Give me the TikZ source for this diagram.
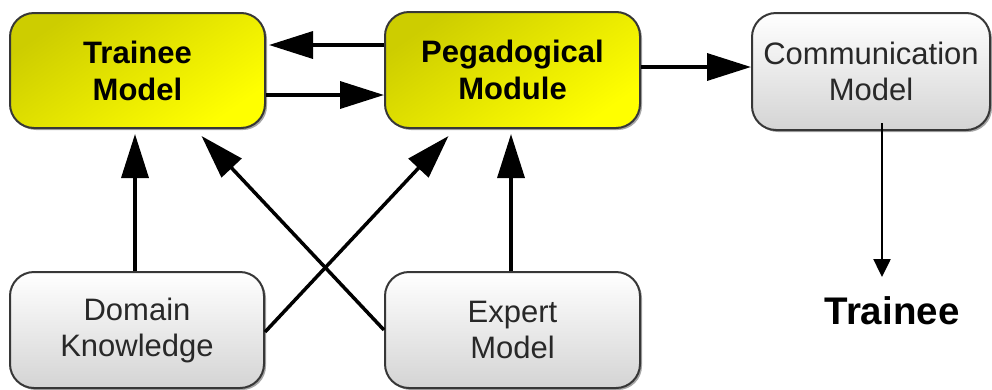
\documentclass[tikz,border=0pt]{standalone}
\usepackage{fontspec}
\setmainfont{Liberation Sans}
\usetikzlibrary{arrows.meta,shadows}
\definecolor{ydark}{RGB}{205,205,0}
\definecolor{ylight}{RGB}{255,255,0}
\definecolor{gbot}{RGB}{212,212,212}
\definecolor{edge}{RGB}{55,55,55}
\definecolor{gtext}{RGB}{40,40,40}
\begin{document}
\begin{tikzpicture}[x=1pt,y=-1pt,
  box/.style={draw=edge,line width=2pt,rounded corners=24pt,align=center,
    inner sep=0pt,
    drop shadow={shadow xshift=2pt,shadow yshift=-2pt,opacity=0.35,fill=black}},
  ybox/.style={box,top color=ydark,bottom color=ylight,shading angle=35,
    font=\fontsize{31}{37}\selectfont\bfseries,text=black},
  gbox/.style={box,top color=white,bottom color=gbot,
    font=\fontsize{31}{36}\selectfont,text=gtext},
  bigarrow/.style={line width=3.5pt,-{Triangle[length=44pt,width=27pt]}},
  smallarrow/.style={line width=2.5pt,-{Triangle[length=18pt,width=17pt]}}
]
\useasboundingbox (0,0) rectangle (992,389);
\node[ybox,minimum width=255pt,minimum height=115pt] (T) at (137.5,70.5) {Trainee\\Model};
\node[ybox,minimum width=255pt,minimum height=116pt] (P) at (512.5,70) {Pegadogical\\Module};
\node[gbox,minimum width=238pt,minimum height=117pt] (C) at (871,71.5) {Communication\\Model};
\node[gbox,minimum width=254pt,minimum height=116pt] (D) at (137,330) {Domain\\Knowledge};
\node[gbox,minimum width=255pt,minimum height=116pt] (E) at (512.5,330) {Expert\\Model};
\node[anchor=base,inner sep=0pt,font=\fontsize{38.5}{44}\selectfont\bfseries] (Tr) at (892,324) {Trainee};

\coordinate (y45) at (0,45);
\coordinate (y95) at (0,95);
\coordinate (y67) at (0,67);
\coordinate (x135) at (135,0);
\coordinate (x511) at (511,0);
\coordinate (x882) at (882,0);
\coordinate (trtop) at (882,277);

\draw[bigarrow] (P.west |- y45) -- ([xshift=3pt]T.east |- y45);
\draw[bigarrow] (T.east |- y95) -- (P.west |- y95);
\draw[bigarrow] (P.east |- y67) -- (C.west |- y67);
\draw[bigarrow] (D.north -| x135) -- ([yshift=-5pt]T.south -| x135);
\draw[bigarrow] (E.north -| x511) -- ([yshift=-5pt]P.south -| x511);
\draw[bigarrow] ([yshift=-2pt]D.east) -- ([xshift=-64pt,yshift=-7pt]P.south);
\draw[bigarrow] (E.west) -- ([xshift=64pt,yshift=-7pt]T.south);
\draw[smallarrow] ([yshift=8pt]C.south -| x882) -- (trtop);
\end{tikzpicture}
\end{document}
